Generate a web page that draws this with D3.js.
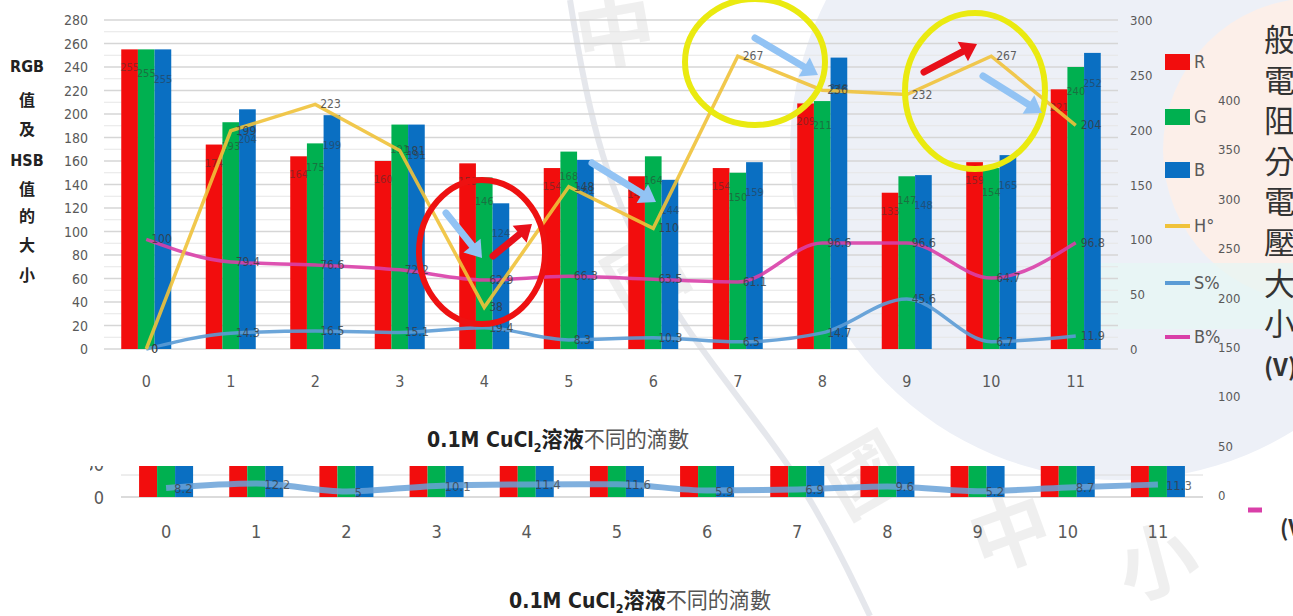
<!DOCTYPE html>
<html><head><meta charset="utf-8">
<script src="https://cdn.jsdelivr.net/npm/d3@7"></script>
<style>
body{margin:0;background:#fff}
svg{display:block}
text{font-family:"Liberation Sans Narrow","DejaVu Sans Condensed","Arial Narrow",sans-serif}
</style>
</head><body>
<svg id="c" width="1293" height="616"></svg>
<script>
// Drops of 0.1M CuCl2 solution
const drops = ["0","1","2","3","4","5","6","7","8","9","10","11"];
// RGB channel values (left axis)
const valR = [255,174,164,160,158,154,147,154,209,133,159,221];
const valG = [255,193,175,191,146,168,164,150,211,147,154,240];
const valB = [255,204,199,191,124,161,144,159,248,148,165,252];
// HSB values (right axis)
const valH = [0,199,223,181,38,148,110,267,236,232,267,204];
const valS = [0,14.3,16.5,15.1,19.4,8.3,10.3,6.5,14.7,45.6,6.7,11.9];
const valBr = [100,79.4,76.6,72.2,62.9,66.3,63.5,61.1,96.6,96.6,64.7,96.8];
// second panel saturation line
const valS2 = [8.2,12.2,5.0,10.1,11.4,11.6,5.9,6.9,9.6,5.2,8.7,11.3];
const leftTicks = d3.range(0,281,20);
const rightTicks = d3.range(0,301,50);
const voltTicks = d3.range(0,401,50);
const legendNames = ["R","G","B","H°","S%","B%"];
const leftTitle = ["RGB","值","及","HSB","值","的","大","小"];
const sideText = ["般","電","阻","分","電","壓","大","小","(V)"];

const colR="#f20d0d", colG="#00b050", colB="#0a6fc2", colH="#f0c23a", colS="#5b9bd5", colBr="#d93fa8";
const txt="#595959";

const svg = d3.select("#c");

// ---------- background decoration ----------
const bg = svg.append("g");
bg.append("circle").attr("cx",1120).attr("cy",150).attr("r",330).attr("fill","#edf0f7");
bg.append("circle").attr("cx",1315).attr("cy",150).attr("r",152).attr("fill","#fcefe9");
bg.append("rect").attr("x",1100).attr("y",263).attr("width",193).attr("height",66).attr("fill","#e6f6f4").attr("opacity",0.7);
bg.append("path")
  .attr("d", d3.line().curve(d3.curveBasis)([[570,0],[598,170],[680,330],[800,470],[870,616]]))
  .attr("fill","none").attr("stroke","#d3d7df").attr("stroke-width",6).attr("opacity",0.6);
const wm = [["中",620,60,-10],["國",660,300,-30],["國",880,500,-30],["中",1020,560,-20],["小",1165,590,-15]];
bg.selectAll("text.wm").data(wm).join("text")
  .attr("class","wm")
  .attr("transform",d=>`translate(${d[1]},${d[2]}) rotate(${d[3]})`)
  .attr("text-anchor","middle")
  .style("font-family","'Noto Sans CJK TC'").style("font-weight","bold")
  .attr("font-size",80).attr("fill","#c8c8c8").attr("opacity",0.28).text(d=>d[0]);

// ---------- main chart ----------
const x0 = d3.scaleBand().domain(drops).range([104,1118]);
const x1 = d3.scaleBand().domain(["R","G","B"]).range([0,50]);
const yL = d3.scaleLinear().domain([0,280]).range([349,20]);
const yR = d3.scaleLinear().domain([0,300]).range([349,20]);

const main = svg.append("g");
// gridlines
main.selectAll("line.minor").data(d3.range(10,281,20)).join("line")
  .attr("x1",104).attr("x2",1118).attr("y1",d=>yL(d)).attr("y2",d=>yL(d))
  .attr("stroke","#e6e6e6").attr("stroke-width",1);
main.selectAll("line.major").data(leftTicks).join("line")
  .attr("x1",104).attr("x2",1118).attr("y1",d=>yL(d)).attr("y2",d=>yL(d))
  .attr("stroke","#d6d6d6").attr("stroke-width",1.3);

// left axis labels
main.selectAll("text.yl").data(leftTicks).join("text")
  .attr("x",88).attr("y",d=>yL(d)+5).attr("text-anchor","end")
  .attr("font-size",14).attr("fill",txt).text(d=>d);
// right axis labels
main.selectAll("text.yr").data(rightTicks).join("text")
  .attr("x",1130).attr("y",d=>yR(d)+5).attr("text-anchor","start")
  .attr("font-size",13).attr("fill",txt).text(d=>d);
// x labels
main.selectAll("text.xl").data(drops).join("text")
  .attr("x",d=>x0(d)+x0.bandwidth()/2).attr("y",387).attr("text-anchor","middle")
  .attr("font-size",16).attr("fill",txt).text(d=>d);

// left title
main.selectAll("text.lt").data(leftTitle).join("text")
  .attr("x",27).attr("y",(d,i)=>[72,106,135,166,195,222,251,281][i])
  .attr("text-anchor","middle").attr("font-size",16).attr("font-weight","bold")
  .style("font-family","'Liberation Sans Narrow','DejaVu Sans Condensed','Noto Sans CJK TC',sans-serif")
  .attr("fill","#222").text(d=>d);

// bars
const rows = drops.map((d,i)=>({d, vals:[["R",valR[i],colR],["G",valG[i],colG],["B",valB[i],colB]]}));
const grp = main.selectAll("g.grp").data(rows).join("g")
  .attr("transform",d=>`translate(${x0(d.d)+x0.bandwidth()/2-25},0)`);
grp.selectAll("rect").data(d=>d.vals).join("rect")
  .attr("x",v=>x1(v[0])).attr("width",x1.bandwidth())
  .attr("y",v=>yL(v[1])).attr("height",v=>yL(0)-yL(v[1]))
  .attr("fill",v=>v[2]);
grp.selectAll("text").data(d=>d.vals).join("text")
  .attr("x",v=>x1(v[0])+x1.bandwidth()/2).attr("y",(v,i)=>yL(v[1])+22+i*6)
  .attr("text-anchor","middle").attr("font-size",11).attr("fill","#333").attr("opacity",0.5)
  .text(v=>v[1]);

// lines
function series(vals, color, curve, w){
  const line = d3.line().x((v,i)=>x0(drops[i])+x0.bandwidth()/2).y(v=>yR(v)).curve(curve);
  main.append("path").attr("d",line(vals)).attr("fill","none")
    .attr("stroke",color).attr("stroke-width",w).attr("opacity",0.9);
  main.selectAll(null).data(vals).join("text")
    .attr("x",(v,i)=>x0(drops[i])+x0.bandwidth()/2+5).attr("y",v=>yR(v)+4)
    .attr("font-size",12).attr("fill","#3a3a3a").attr("opacity",0.8).text(v=>v);
}
series(valS, colS, d3.curveMonotoneX, 3.5);
series(valBr, colBr, d3.curveMonotoneX, 3.5);
series(valH, colH, d3.curveLinear, 3.5);

// legend
const leg = main.selectAll("g.leg").data(legendNames).join("g")
  .attr("transform",(d,i)=>`translate(1165,${[62,117,170,226,283,337][i]})`);
leg.each(function(d,i){
  const g=d3.select(this);
  if(i<3) g.append("rect").attr("x",0).attr("y",-8).attr("width",25).attr("height",16).attr("fill",[colR,colG,colB][i]);
  else g.append("line").attr("x1",0).attr("x2",25).attr("stroke",[colH,colS,colBr][i-3]).attr("stroke-width",4);
  g.append("text").attr("x",29).attr("y",6).attr("font-size",18).attr("fill",txt).text(d);
});

// x-axis title
function axisTitle(cx, y){
  const t = svg.append("text").attr("x",cx).attr("y",y).attr("text-anchor","middle")
    .attr("font-size",22).style("font-family","'Liberation Sans Narrow','DejaVu Sans Condensed','Noto Sans CJK TC',sans-serif")
    .attr("textLength",262).attr("lengthAdjust","spacingAndGlyphs");
  t.append("tspan").attr("font-weight","bold").attr("fill","#222").text("0.1M CuCl");
  t.append("tspan").attr("font-weight","bold").attr("fill","#222").attr("font-size",13).attr("dy",5).text("2");
  t.append("tspan").attr("font-weight","bold").attr("fill","#222").attr("dy",-5).style("font-family","'Noto Sans CJK TC'").text("溶液");
  t.append("tspan").attr("fill","#555").style("font-family","'Noto Sans CJK TC'").text("不同的滴數");
}
axisTitle(558,447);

// ---------- annotations ----------
const ann = svg.append("g");
function arrow(x1,y1,x2,y2,color){
  const a=Math.atan2(y2-y1,x2-x1), L=16, W=11;
  const bx=x2-L*Math.cos(a), by=y2-L*Math.sin(a);
  ann.append("line").attr("x1",x1).attr("y1",y1).attr("x2",bx).attr("y2",by)
    .attr("stroke",color).attr("stroke-width",7).attr("stroke-linecap","round");
  ann.append("polygon").attr("points",[
    [x2,y2],[bx+W*Math.sin(a),by-W*Math.cos(a)],[bx-W*Math.sin(a),by+W*Math.cos(a)]
  ].map(p=>p.join(",")).join(" ")).attr("fill",color);
}
ann.append("ellipse").attr("cx",482).attr("cy",252).attr("rx",63).attr("ry",72)
  .attr("fill","none").attr("stroke","#ee1111").attr("stroke-width",6);
ann.append("ellipse").attr("cx",755).attr("cy",62).attr("rx",70).attr("ry",63)
  .attr("fill","none").attr("stroke","#eaea10").attr("stroke-width",6);
ann.append("ellipse").attr("cx",975).attr("cy",91).attr("rx",70).attr("ry",78)
  .attr("fill","none").attr("stroke","#eaea10").attr("stroke-width",6);
arrow(446,213,482,258,"#92c3f4");
arrow(493,256,532,224,"#e8101a");
arrow(592,163,656,202,"#92c3f4");
arrow(755,38,818,75,"#92c3f4");
arrow(924,72,977,44,"#e8101a");
arrow(983,76,1042,113,"#92c3f4");

// ---------- second panel (cropped) ----------
const x2 = d3.scaleBand().domain(drops).range([121,1203]);
const x3 = d3.scaleBand().domain(["R","G","B"]).range([0,54]);
const y2 = d3.scaleLinear().domain([0,30]).range([497,464]);
svg.append("clipPath").attr("id","strip").append("rect").attr("x",90).attr("y",466).attr("width",1130).attr("height",40);
const p2 = svg.append("g").attr("clip-path","url(#strip)");
p2.append("line").attr("x1",121).attr("x2",1203).attr("y1",y2(20)).attr("y2",y2(20)).attr("stroke","#dcdcdc");
p2.append("line").attr("x1",121).attr("x2",1203).attr("y1",y2(0)).attr("y2",y2(0)).attr("stroke","#cfcfcf").attr("stroke-width",1.5);
const g2 = p2.selectAll("g.g2").data(rows).join("g")
  .attr("transform",d=>`translate(${x2(d.d)+x2.bandwidth()/2-27},0)`);
g2.selectAll("rect").data(d=>d.vals).join("rect")
  .attr("x",v=>x3(v[0])).attr("width",x3.bandwidth())
  .attr("y",v=>y2(v[1])).attr("height",v=>y2(0)-y2(v[1])).attr("fill",v=>v[2]);
p2.append("path").attr("d",d3.line().x((v,i)=>x2(drops[i])+x2.bandwidth()/2).y(v=>y2(v)).curve(d3.curveMonotoneX)(valS2))
  .attr("fill","none").attr("stroke","#6aa2d8").attr("stroke-width",6).attr("opacity",0.85);
p2.selectAll("text.s2").data(valS2).join("text")
  .attr("x",(v,i)=>x2(drops[i])+x2.bandwidth()/2+8).attr("y",v=>y2(v)+5)
  .attr("font-size",13).attr("fill","#3a3a3a").attr("opacity",0.75).text(v=>v);
svg.append("text").attr("x",104).attr("y",y2(0)+7).attr("text-anchor","end").attr("font-size",18).attr("fill",txt).text("0");
svg.append("g").attr("clip-path","url(#strip)").append("text").attr("x",104).attr("y",y2(30)+7)
  .attr("text-anchor","end").attr("font-size",18).attr("fill",txt).text("30");
svg.selectAll("text.x2").data(drops).join("text")
  .attr("x",d=>x2(d)+x2.bandwidth()/2).attr("y",538).attr("text-anchor","middle")
  .attr("font-size",18).attr("fill",txt).text(d=>d);
axisTitle(640,608);

// ---------- partial voltage axis and side caption ----------
const yV = d3.scaleLinear().domain([0,400]).range([495,100]);
svg.selectAll("text.v").data(voltTicks).join("text")
  .attr("x",1218).attr("y",d=>yV(d)+5).attr("font-size",13).attr("fill",txt).text(d=>d);
svg.selectAll("text.side").data(sideText).join("text")
  .attr("x",1264).attr("y",(d,i)=>51+i*40.6)
  .attr("font-size",(d,i)=>i===8?24:31).attr("font-weight",(d,i)=>i===8?"bold":"normal")
  .style("font-family","'Noto Sans CJK TC'").attr("fill","#333").text(d=>d);
svg.append("line").attr("x1",1248).attr("x2",1262).attr("y1",510).attr("y2",510).attr("stroke",colBr).attr("stroke-width",5);
svg.append("text").attr("x",1280).attr("y",536).attr("font-size",22).attr("font-weight","bold")
  .style("font-family","'Noto Sans CJK TC'").attr("fill","#333").text("(V");
</script>
</body></html>
